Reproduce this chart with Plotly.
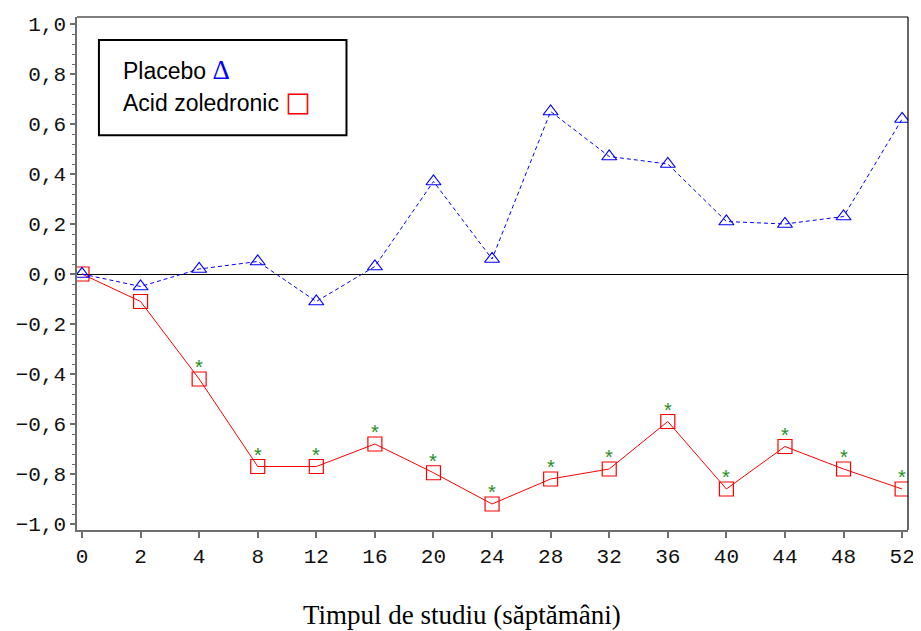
import plotly.graph_objects as go

weeks = ["0", "2", "4", "8", "12", "16", "20", "24", "28", "32", "36", "40", "44", "48", "52"]
placebo = [0.0, -0.05, 0.02, 0.05, -0.11, 0.03, 0.37, 0.06, 0.65, 0.47, 0.44, 0.21, 0.20, 0.23, 0.62]
zoledronic = [0.0, -0.11, -0.42, -0.77, -0.77, -0.68, -0.795, -0.92, -0.82, -0.78, -0.59, -0.86, -0.69, -0.78, -0.86]
significant = [False, False, True, True, True, True, True, True, True, True, True, True, True, True, True]

y_tickvals = [-1.0, -0.8, -0.6, -0.4, -0.2, 0.0, 0.2, 0.4, 0.6, 0.8, 1.0]
y_ticktext = ["\u22121,0", "\u22120,8", "\u22120,6", "\u22120,4", "\u22120,2", "0,0", "0,2", "0,4", "0,6", "0,8", "1,0"]

legend_placebo = "Placebo"
legend_zol = "Acid zoledronic"
x_title = "Timpul de studiu (săptămâni)"

AX = "#6e6e6e"
MONO = "Liberation Mono"

fig = go.Figure()

fig.add_trace(go.Scatter(
    x=weeks, y=zoledronic, mode="lines+markers",
    line=dict(color="#ff0000", width=1),
    marker=dict(symbol="square-open", size=14, color="#ff0000", line=dict(width=1.2, color="#ff0000")),
    showlegend=False, hoverinfo="skip",
))
fig.add_trace(go.Scatter(
    x=weeks, y=placebo, mode="lines+markers",
    line=dict(color="#0000ff", width=1, dash="4px,3px"),
    marker=dict(symbol="triangle-up-open", size=13, color="#0000ff", line=dict(width=1.2, color="#0000ff")),
    showlegend=False, hoverinfo="skip",
))

annotations = []
for i, (v, s) in enumerate(zip(zoledronic, significant)):
    if s:
        annotations.append(dict(
            x=i, y=v, xref="x", yref="y", text="*", showarrow=False,
            yshift=12, font=dict(family="Liberation Sans", size=20, color="#1f8f1f"),
        ))

# legend box texts
annotations.append(dict(
    x=0.0528, y=0.8960, xref="paper", yref="paper", xanchor="left", yanchor="middle",
    text=legend_placebo + " <span style=\"font-family:'Liberation Serif';font-size:27px;color:#0000ff\">\u0394</span>",
    showarrow=False, font=dict(family="Liberation Sans", size=23, color="#000000"),
))
annotations.append(dict(
    x=0.0528, y=0.8345, xref="paper", yref="paper", xanchor="left", yanchor="middle",
    text=legend_zol + " <span style=\"font-family:'DejaVu Sans';font-size:27px;color:#ff0000\">\u25a1</span>",
    showarrow=False, font=dict(family="Liberation Sans", size=23, color="#000000"),
))
# x-axis title
annotations.append(dict(
    x=0.4635, y=-0.165, xref="paper", yref="paper", xanchor="center", yanchor="middle",
    text=x_title, showarrow=False,
    font=dict(family="Liberation Serif", size=27, color="#000000"),
))

shapes = [
    dict(type="line", xref="paper", yref="paper", x0=0, x1=1, y0=1, y1=1, line=dict(color="#000000", width=1.2)),
    dict(type="line", xref="paper", yref="paper", x0=1, x1=1, y0=0, y1=1, line=dict(color="#000000", width=1.2)),
    dict(type="rect", xref="paper", yref="paper", x0=0.0264, x1=0.3243, y0=0.7694, y1=0.9554,
         line=dict(color="#000000", width=2), fillcolor="rgba(0,0,0,0)"),
]

fig.update_layout(
    width=913, height=623,
    margin=dict(l=69, r=10, t=6, b=101),
    paper_bgcolor="white", plot_bgcolor="white",
    showlegend=False,
    annotations=annotations,
    shapes=shapes,
    xaxis=dict(
        type="category", range=[-0.085, 14.1],
        showgrid=False, zeroline=False,
        showline=True, linecolor=AX, linewidth=1.5,
        ticks="outside", ticklen=6, tickcolor=AX, tickwidth=1.5,
        tickfont=dict(family=MONO, size=21, color="#111111"),
    ),
    yaxis=dict(
        range=[-1.024, 1.028],
        tickmode="array", tickvals=y_tickvals, ticktext=y_ticktext,
        showgrid=False,
        zeroline=True, zerolinecolor="#000000", zerolinewidth=1.2,
        showline=True, linecolor=AX, linewidth=1.5,
        ticks="outside", ticklen=5, tickcolor=AX, tickwidth=1.5,
        tickfont=dict(family=MONO, size=21, color="#111111"),
        minor=dict(tickmode="linear", tick0=-1, dtick=0.04, ticks="outside", ticklen=3, tickcolor=AX, tickwidth=1.2),
    ),
)

fig.write_html("out.html")
